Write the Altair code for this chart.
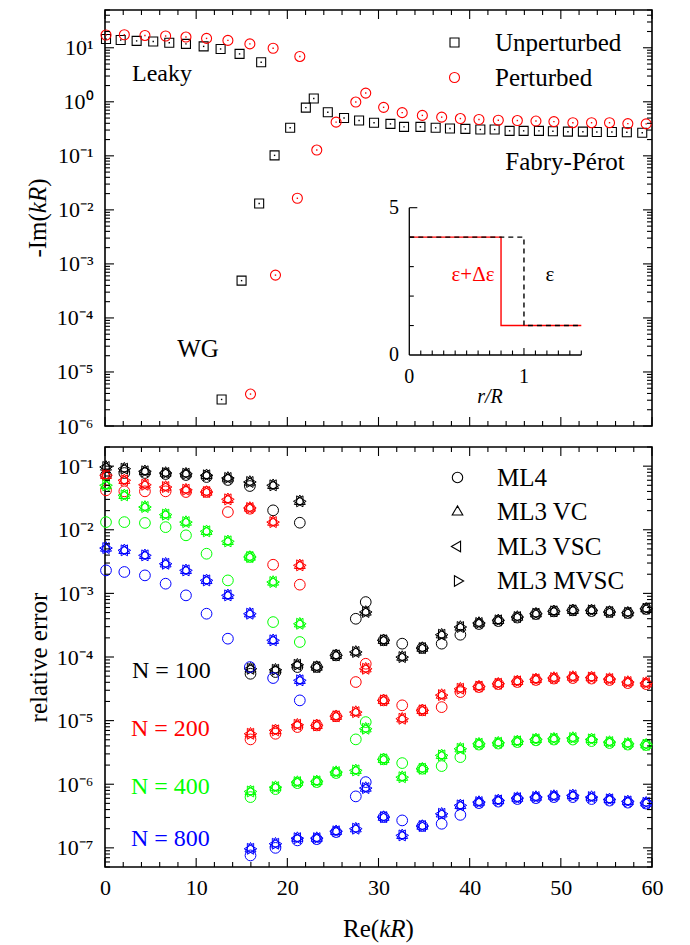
import altair as alt
import pandas as pd

FONT = "Liberation Serif"

# ---------------- top panel: -Im(kR) versus Re(kR) ----------------
unpert_re = [0.11, 1.72, 3.47, 5.29, 7.05, 8.88, 10.82, 12.68, 14.76, 17.13,
             12.79, 14.98, 16.91, 18.6, 20.31, 22.03, 22.9,
             24.44, 26.22, 27.87, 29.51, 31.31, 32.8, 34.6, 36.27, 37.84, 39.53,
             41.17, 42.74, 44.38, 45.92, 47.6, 49.13, 50.78, 52.42, 53.95, 55.6,
             57.24, 58.93]
unpert_im = [14.5, 13.9, 13.4, 13.1, 12.4, 11.8, 10.6, 9.5, 7.7, 5.4,
             3.1e-6, 4.9e-4, 0.0131, 0.102, 0.33, 0.78, 1.15,
             0.64, 0.50, 0.45, 0.41, 0.39, 0.344, 0.344, 0.33, 0.32, 0.315,
             0.307, 0.307, 0.29, 0.29, 0.29, 0.285, 0.28, 0.28, 0.277, 0.277,
             0.273, 0.267]
pert_re = [0.11, 2.12, 4.38, 6.65, 8.88, 11.14, 13.48, 15.89, 18.44, 21.37,
           15.96, 18.7, 21.1, 23.23, 25.35, 27.51, 28.6,
           30.56, 32.6, 34.81, 36.93, 38.98, 41.02, 43.14, 45.23, 47.27, 49.24,
           51.32, 53.37, 55.34, 57.35, 59.36]
pert_im = [17.2, 17.4, 16.9, 16.5, 15.8, 14.9, 13.7, 11.8, 9.8, 6.9,
           3.9e-6, 6.2e-4, 0.0164, 0.128, 0.42, 0.99, 1.45,
           0.79, 0.63, 0.56, 0.52, 0.49, 0.47, 0.456, 0.45, 0.44, 0.43,
           0.41, 0.41, 0.41, 0.395, 0.39]

# inset: permittivity profiles
inset_r_unpert = [0.0, 1.0, 1.0, 1.5]
inset_eps_unpert = [4, 4, 1, 1]
inset_r_pert = [0.0, 0.8, 0.8, 1.5]
inset_eps_pert = [4, 4, 1, 1]

# ---------------- bottom panel: relative error ----------------
err_re = [0.11, 2.12, 4.38, 6.65, 8.88, 11.14, 13.48, 15.89, 18.44, 21.37,
          15.96, 18.7, 21.1, 23.23, 25.35, 27.51, 28.6,
          30.56, 32.6, 34.81, 36.93, 38.98, 41.02, 43.14, 45.23, 47.27, 49.24,
          51.32, 53.37, 55.34, 57.35, 59.36]

ml4_n100 = [0.0718, 0.078, 0.078, 0.0752, 0.0726, 0.0675, 0.0606, 0.0487, 0.0202, 0.0129,
            5.45e-5, 5.8e-5, 6.95e-5, 6.95e-5, 1.06e-4, 3.99e-4, 7.3e-4,
            1.83e-4, 1.62e-4, 1.38e-4, 1.62e-4, 2.24e-4, 3.3e-4, 3.67e-4, 4.17e-4, 4.73e-4,
            5.22e-4, 5.41e-4, 5.27e-4, 5.09e-4, 4.91e-4, 5.68e-4]
ml3_n100 = [0.097, 0.0912, 0.083, 0.078, 0.076, 0.0718, 0.0652, 0.0564, 0.050, 0.028,
            6.53e-5, 6.3e-5, 7.55e-5, 6.95e-5, 1.06e-4, 1.2e-4, 5.1e-4,
            1.83e-4, 9.97e-5, 1.38e-4, 2.24e-4, 2.96e-4, 3.42e-4, 3.77e-4, 4.25e-4, 4.79e-4,
            5.22e-4, 5.41e-4, 5.41e-4, 5.09e-4, 4.96e-4, 5.74e-4]
ml4_n200 = [0.0417, 0.0402, 0.0402, 0.0402, 0.0392, 0.0392, 0.019, 0.0214, 0.00282, 0.00137,
            5.07e-6, 6.21e-6, 7.92e-6, 8.41e-6, 1.17e-5, 4.04e-5, 7.83e-5,
            2.08e-5, 1.74e-5, 1.45e-5, 1.63e-5, 2.81e-5, 3.37e-5, 3.75e-5, 4.04e-5, 4.35e-5,
            4.58e-5, 4.67e-5, 4.58e-5, 4.35e-5, 3.89e-5, 3.75e-5]
ml3_n200 = [0.0718, 0.0599, 0.051, 0.047, 0.0426, 0.0392, 0.0301, 0.022, 0.0132, 0.00276,
            6.21e-6, 7.03e-6, 8.61e-6, 8.41e-6, 1.17e-5, 1.36e-5, 6.53e-5,
            2.08e-5, 1.07e-5, 1.45e-5, 2.52e-5, 3.17e-5, 3.43e-5, 3.8e-5, 4.14e-5, 4.45e-5,
            4.67e-5, 4.84e-5, 4.76e-5, 4.5e-5, 4.04e-5, 3.89e-5]
ml4_n400 = [0.0132, 0.0132, 0.0128, 0.011, 0.00818, 0.0042, 0.0016, 0.00373, 3.54e-4, 1.72e-4,
            6.28e-7, 8.39e-7, 1.04e-6, 1.08e-6, 1.5e-6, 5.07e-6, 9.48e-6,
            2.46e-6, 2.15e-6, 1.75e-6, 1.93e-6, 2.67e-6, 4.2e-6, 4.36e-6, 4.6e-6, 4.9e-6,
            5.04e-6, 5.04e-6, 4.77e-6, 4.44e-6, 4.2e-6, 4.13e-6]
ml3_n400 = [0.050, 0.0348, 0.0228, 0.0173, 0.0132, 0.00946, 0.00658, 0.00373, 0.00151, 3.33e-4,
            7.7e-7, 9.0e-7, 1.08e-6, 1.11e-6, 1.55e-6, 1.65e-6, 7.45e-6,
            2.46e-6, 1.29e-6, 1.75e-6, 2.84e-6, 3.61e-6, 4.33e-6, 4.49e-6, 4.72e-6, 5.07e-6,
            5.19e-6, 5.32e-6, 5.07e-6, 4.6e-6, 4.33e-6, 4.17e-6]
ml4_n800 = [0.0023, 0.00217, 0.00192, 0.00142, 9.31e-4, 4.79e-4, 1.94e-4, 6.95e-5, 4.67e-5, 2.08e-5,
            7.6e-8, 1.0e-7, 1.31e-7, 1.37e-7, 1.77e-7, 6.44e-7, 1.08e-6,
            3.04e-7, 2.7e-7, 2.2e-7, 2.39e-7, 3.3e-7, 5.05e-7, 5.33e-7, 5.85e-7, 6.05e-7,
            6.28e-7, 6.28e-7, 5.85e-7, 5.53e-7, 5.14e-7, 4.97e-7]
ml3_n800 = [0.00516, 0.00475, 0.00396, 0.00292, 0.0023, 0.0016, 9.31e-4, 4.79e-4, 1.83e-4, 4.3e-5,
            9.66e-8, 1.16e-7, 1.42e-7, 1.42e-7, 1.82e-7, 2.0e-7, 8.7e-7,
            3.04e-7, 1.57e-7, 2.2e-7, 3.43e-7, 4.65e-7, 5.24e-7, 5.57e-7, 6.05e-7, 6.28e-7,
            6.52e-7, 6.68e-7, 6.28e-7, 5.78e-7, 5.37e-7, 5.1e-7]

N_labels = ["100", "200", "400", "800"]
N_colors = ["black", "red", "#00ff00", "blue"]
methods = ["ML4", "ML3 VC", "ML3 VSC", "ML3 MVSC"]
# centroid-centred equilateral triangles (up, left, right) and a circle
TRI_UP = "M0,-1L0.866,0.5L-0.866,0.5Z"
TRI_LEFT = "M-1,0L0.5,-0.866L0.5,0.866Z"
TRI_RIGHT = "M1,0L-0.5,-0.866L-0.5,0.866Z"
CIRCLE = "M0.85,0A0.85,0.85,0,1,1,-0.85,0A0.85,0.85,0,1,1,0.85,0Z"
method_shapes = [CIRCLE, TRI_UP, TRI_LEFT, TRI_RIGHT]

# tick positions
x_major = [0, 10, 20, 30, 40, 50, 60]
x_minor = [v for v in range(0, 61, 2) if v % 10 != 0]
top_dec = [1e-6, 1e-5, 1e-4, 1e-3, 1e-2, 1e-1, 1.0, 10.0]
top_minor = [m * 10.0 ** k for k in range(-6, 2) for m in range(2, 10) if m * 10.0 ** k <= 50]
bot_dec = [1e-7, 1e-6, 1e-5, 1e-4, 1e-3, 1e-2, 1e-1]
bot_minor = [m * 10.0 ** k for k in range(-8, 0) for m in range(2, 10)
             if 5e-8 <= m * 10.0 ** k <= 0.2]
inset_xminor = [i / 10 for i in range(1, 16) if i != 10]
inset_xmajor = [1.0]
inset_yminor = [1, 2, 3, 4]
inset_ymajor = [5]

# ---------------- layout constants ----------------
W = 547
H1 = 416
H2 = 420
TS = 25  # title font size

xs = alt.Scale(domain=[0, 60], nice=False, zero=False)
ys1 = alt.Scale(type="log", domain=[1e-6, 50], nice=False)
ys2 = alt.Scale(type="log", domain=[5e-8, 0.2], nice=False)
xs_in = alt.Scale(domain=[0, 1.5], range=[304.3, 476.3], nice=False, zero=False)
ys_in = alt.Scale(domain=[0, 5], range=[345, 197.7], nice=False, zero=False)

EXP = "round(log(datum.value)/LN10)"
sup_expr = ("'10' + (" + EXP + " < 0 ? '\u207b' : '') + substring('\u2070\u00b9\u00b2\u00b3\u2074\u2075\u2076\u2077\u2078\u2079', abs("
            + EXP + "), abs(" + EXP + ") + 1)")


def yaxis(values, title, h):
    kw = dict(values=values, labelExpr=sup_expr, ticks=False, domain=False, grid=False,
              labelFont=FONT, labelFontSize=22, labelPadding=12, labelFlush=False,
              labelColor="black")
    if title:
        kw.update(title=title, titleFont=FONT, titleFontSize=TS, titleFontWeight="normal",
                  titleColor="black", titleX=-67, titleY=h / 2, titleBaseline="middle",
                  titleAlign="center", titleAngle=270)
    else:
        kw.update(title=None)
    return alt.Axis(**kw)


def x_ticks(vals, length, h, top):
    df = pd.DataFrame({"x": vals})
    if top:
        y, y2 = alt.value(0), alt.value(length)
    else:
        y, y2 = alt.value(h), alt.value(h - length)
    return alt.Chart(df).mark_rule(color="black", strokeWidth=1.1).encode(
        x=alt.X("x:Q", scale=xs, axis=None), y=y, y2=y2)


def y_ticks(vals, length, ys, right):
    df = pd.DataFrame({"v": vals})
    if right:
        x, x2 = alt.value(W), alt.value(W - length)
    else:
        x, x2 = alt.value(0), alt.value(length)
    return alt.Chart(df).mark_rule(color="black", strokeWidth=1.1).encode(
        y=alt.Y("v:Q", scale=ys, axis=None), x=x, x2=x2)


def frame_ticks(h, ys, dec, minor):
    out = []
    for top in (False, True):
        out.append(x_ticks(x_major, 9, h, top))
        out.append(x_ticks(x_minor, 5, h, top))
    for right in (False, True):
        out.append(y_ticks(dec, 9, ys, right))
        out.append(y_ticks(minor, 5, ys, right))
    return out


def label(text, x, y, size=25, color="black", align="center", italic=False, angle=0):
    kw = dict(font=FONT, fontSize=size, color=color, align=align, baseline="middle")
    if italic:
        kw["fontStyle"] = "italic"
    if angle:
        kw["angle"] = angle
    return alt.Chart(pd.DataFrame({"t": [text]})).mark_text(**kw).encode(
        text="t:N", x=alt.value(x), y=alt.value(y))


# Times/Liberation advance widths (em) of the title pieces
def mixed_title(parts, center, fixed, vertical):
    # parts: list of (text, italic, width_em)
    total = sum(w for _, _, w in parts) * TS
    pos = center - total / 2 if not vertical else center + total / 2
    out = []
    for text, it, w in parts:
        if vertical:
            out.append(label(text, fixed, pos, TS, align="left", italic=it, angle=270))
            pos -= w * TS
        else:
            out.append(label(text, pos, fixed, TS, align="left", italic=it))
            pos += w * TS
    return out


# ---------------- top panel ----------------
unp_df = pd.DataFrame({"re": unpert_re, "im": unpert_im, "series": "Unperturbed"})
per_df = pd.DataFrame({"re": pert_re, "im": pert_im, "series": "Perturbed"})
top_df = pd.concat([unp_df, per_df])
ser_dom = ["Unperturbed", "Perturbed"]
col_top = alt.Scale(domain=ser_dom, range=["black", "red"])
leg_top = alt.Legend(orient="none", legendX=337, legendY=20, title=None, labelFont=FONT,
                     labelFontSize=25, labelColor="black", labelOffset=28, rowPadding=9,
                     symbolSize=90, symbolStrokeWidth=1.1, symbolFillColor="transparent",
                     padding=0)

pts_top = alt.Chart(top_df).mark_point(filled=False, strokeWidth=1.1, opacity=1).encode(
    x=alt.X("re:Q", scale=xs, axis=None),
    y=alt.Y("im:Q", scale=ys1, axis=yaxis(top_dec, None, H1)),
    color=alt.Color("series:N", scale=col_top, legend=leg_top),
    shape=alt.Shape("series:N", scale=alt.Scale(domain=ser_dom, range=["square", "circle"]),
                    legend=leg_top),
    size=alt.Size("series:N", scale=alt.Scale(domain=ser_dom, range=[81, 100]), legend=None),
)


def dots(df, color):
    return alt.Chart(df).mark_point(filled=True, size=2, opacity=1, shape="square", color=color).encode(
        x=alt.X("re:Q", scale=xs, axis=None),
        y=alt.Y("im:Q", scale=ys1, axis=None))


# inset
prof_df = pd.DataFrame({"r": inset_r_pert, "eps": inset_eps_pert, "i": range(4)})
prof_u_df = pd.DataFrame({"r": inset_r_unpert, "eps": inset_eps_unpert, "i": range(4)})
red_line = alt.Chart(prof_df).mark_line(color="red", strokeWidth=1.4).encode(
    x=alt.X("r:Q", scale=xs_in, axis=None), y=alt.Y("eps:Q", scale=ys_in, axis=None),
    order="i:Q")
black_line = alt.Chart(prof_u_df).mark_line(color="black", strokeWidth=1.4, strokeDash=[5, 4]).encode(
    x=alt.X("r:Q", scale=xs_in, axis=None), y=alt.Y("eps:Q", scale=ys_in, axis=None),
    order="i:Q")
in_xaxis = alt.Chart(pd.DataFrame({"a": [0.0], "b": [1.5]})).mark_rule(color="black", strokeWidth=1.3).encode(
    x=alt.X("a:Q", scale=xs_in, axis=None), x2="b:Q", y=alt.value(345))
in_yaxis = alt.Chart(pd.DataFrame({"a": [0.0], "b": [5.0]})).mark_rule(color="black", strokeWidth=1.3).encode(
    y=alt.Y("a:Q", scale=ys_in, axis=None), y2="b:Q", x=alt.value(304.3))


def in_xt(vals, length):
    return alt.Chart(pd.DataFrame({"r": vals})).mark_rule(color="black", strokeWidth=1.1).encode(
        x=alt.X("r:Q", scale=xs_in, axis=None), y=alt.value(345), y2=alt.value(345 - length))


def in_yt(vals, length):
    return alt.Chart(pd.DataFrame({"e": vals})).mark_rule(color="black", strokeWidth=1.1).encode(
        y=alt.Y("e:Q", scale=ys_in, axis=None), x=alt.value(304.3), x2=alt.value(304.3 + length))


in_xlab = alt.Chart(pd.DataFrame({"r": [0.0, 1.0], "t": ["0", "1"]})).mark_text(
    font=FONT, fontSize=20, color="black", baseline="middle").encode(
    x=alt.X("r:Q", scale=xs_in, axis=None), y=alt.value(367), text="t:N")
in_ylab = alt.Chart(pd.DataFrame({"e": [0.0, 5.0], "t": ["0", "5"]})).mark_text(
    font=FONT, fontSize=20, color="black", baseline="middle").encode(
    y=alt.Y("e:Q", scale=ys_in, axis=None), x=alt.value(289), text="t:N")

top_title = mixed_title([("-Im(", False, 1.777), ("kR", True, 1.055), (")", False, 0.333)],
                        H1 / 2, -67, True)

top_layers = [pts_top, dots(unp_df, "black"), dots(per_df, "red")] + frame_ticks(H1, ys1, top_dec, top_minor) + [
    label("Leaky", 57, 64, 24),
    label("Fabry-P\u00e9rot", 460, 152, 25),
    label("WG", 93, 339, 25),
    red_line, black_line, in_xaxis, in_yaxis,
    in_xt(inset_xminor, 4.5), in_xt(inset_xmajor, 7), in_yt(inset_yminor, 4.5), in_yt(inset_ymajor, 8),
    in_xlab, in_ylab,
    label("r/R", 385, 387, 20, italic=True),
    label("\u03b5+\u0394\u03b5", 368, 265, 21, color="red"),
    label("\u03b5", 445, 265, 21),
] + top_title
top = alt.layer(*top_layers).resolve_scale(x="independent", y="independent").properties(
    width=W, height=H1)

# ---------------- bottom panel ----------------
arrays = {
    "100": [ml4_n100, ml3_n100, ml3_n100, ml3_n100],
    "200": [ml4_n200, ml3_n200, ml3_n200, ml3_n200],
    "400": [ml4_n400, ml3_n400, ml3_n400, ml3_n400],
    "800": [ml4_n800, ml3_n800, ml3_n800, ml3_n800],
}
rows = []
for n in N_labels:
    for m, vals in zip(methods, arrays[n]):
        for xv, yv in zip(err_re, vals):
            rows.append({"re": xv, "err": yv, "N": n, "method": m})
bot_df = pd.DataFrame(rows)

leg_bot = alt.Legend(orient="none", legendX=340, legendY=18, title=None, labelFont=FONT,
                     labelFontSize=25, labelColor="black", labelOffset=27, rowPadding=8.5,
                     symbolSize=150, symbolStrokeWidth=1.1, symbolStrokeColor="black",
                     symbolFillColor="transparent", padding=0)

pts_bot = alt.Chart(bot_df).mark_point(filled=False, strokeWidth=1.0, opacity=1, size=160).encode(
    x=alt.X("re:Q", scale=xs, axis=alt.Axis(
        values=x_major, format="d", ticks=False, domain=False, grid=False, labelFont=FONT,
        labelFontSize=22, labelPadding=10, labelFlush=False, labelColor="black", title=None)),
    y=alt.Y("err:Q", scale=ys2, axis=yaxis(bot_dec, "relative error", H2)),
    color=alt.Color("N:N", scale=alt.Scale(domain=N_labels, range=N_colors), legend=None),
    shape=alt.Shape("method:N", scale=alt.Scale(domain=methods, range=method_shapes), legend=leg_bot),
)

bot_title = mixed_title([("Re(", False, 1.444), ("kR", True, 1.055), (")", False, 0.333)],
                        W / 2, 482, False)

bot_layers = [pts_bot] + frame_ticks(H2, ys2, bot_dec, bot_minor) + [
    label("N = 100", 27, 224, 24, align="left"),
    label("N = 200", 26, 282, 24, color="red", align="left"),
    label("N = 400", 26, 340, 24, color="#00ff00", align="left"),
    label("N = 800", 26, 392, 24, color="blue", align="left"),
] + bot_title
bottom = alt.layer(*bot_layers).resolve_scale(x="independent", y="independent").properties(
    width=W, height=H2)

chart = alt.vconcat(top, bottom, spacing=21, bounds="flush").resolve_scale(
    color="independent", shape="independent", size="independent"
).properties(
    padding={"left": 17, "top": 0, "right": 5, "bottom": 5}, background="white"
).configure_view(stroke="black", strokeWidth=1.6)

chart.save("out.html", embed_options={"renderer": "svg", "actions": False})
